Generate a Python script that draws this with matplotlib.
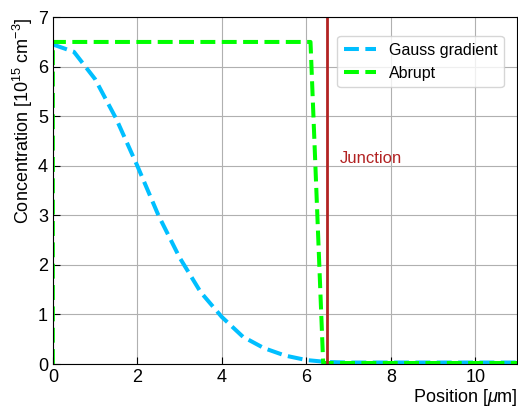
import matplotlib
matplotlib.use('Agg')
import matplotlib.pyplot as plt

plt.rcParams['font.family'] = ['Liberation Sans', 'DejaVu Sans']
plt.rcParams['mathtext.fontset'] = 'custom'
plt.rcParams['mathtext.rm'] = 'Liberation Sans'
plt.rcParams['mathtext.it'] = 'Liberation Sans:italic'

# Gaussian doping profile
gauss_x = [0, 0.5, 1, 1.5, 2, 2.5, 3, 3.5, 4, 4.5, 5, 5.5, 6, 6.5, 7, 8, 9, 10, 11]
gauss_y = [6.45, 6.3, 5.75, 4.95, 4.0, 3.0, 2.15, 1.45, 0.95, 0.55, 0.32, 0.17, 0.08, 0.04, 0.03, 0.03, 0.03, 0.03, 0.03]

# abrupt profile
abrupt_x = [0, 0, 6.1, 6.4, 11]
abrupt_y = [0, 6.5, 6.5, 0.02, 0.02]

junction = 6.5

fig = plt.figure(figsize=(5.18, 4.09), dpi=100)
ax = fig.add_axes([0.102, 0.110, 0.897, 0.848])

ax.plot(gauss_x, gauss_y, '--', color='deepskyblue', lw=2.9, label='Gauss gradient')
ax.plot(abrupt_x, abrupt_y, '--', color='lime', lw=2.9, label='Abrupt')
ax.axvline(junction, color='firebrick', lw=2)
ax.text(6.8, 4.05, 'Junction', color='firebrick', fontsize=12)

ax.set_xlim(0, 11)
ax.set_ylim(0, 7)
ax.grid(True, color='#b0b0b0', lw=0.8)
ax.tick_params(direction='in', labelsize=13, length=5)
ax.set_xlabel(r'Position [$\mu$m]', loc='right', fontsize=13, labelpad=1)
ax.set_ylabel(r'Concentration [10$^{15}$ cm$^{-3}$]', loc='top', fontsize=13, labelpad=2)
ax.legend(loc='upper right', fontsize=11.5, bbox_to_anchor=(0.97, 0.945), borderaxespad=0)

fig.savefig('out.png', dpi=100)
